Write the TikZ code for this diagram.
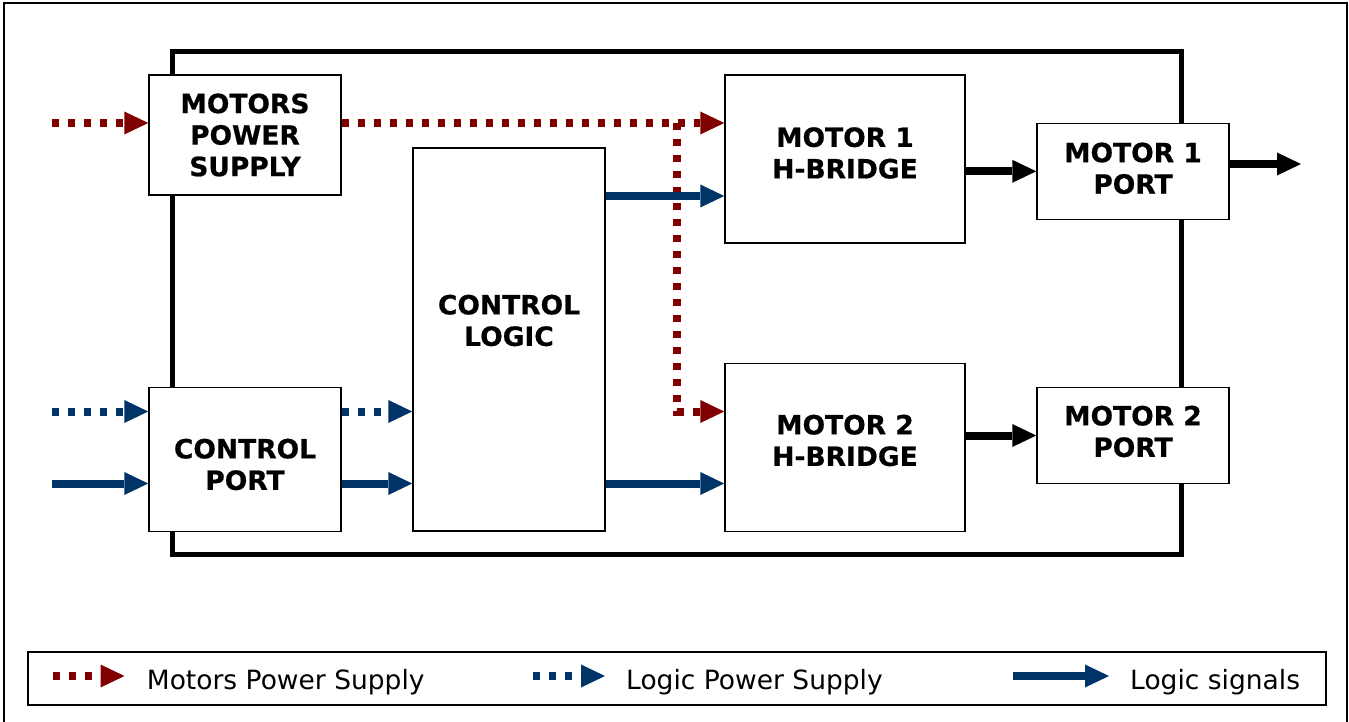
\documentclass[tikz,border=0pt]{standalone}
\usepackage{fontspec}
\setmainfont{DejaVu Sans}[BoldFeatures={FakeBold=0.6}]
\usetikzlibrary{arrows.meta}
\definecolor{pwrred}{RGB}{128,0,0}
\definecolor{logicblue}{RGB}{0,51,102}
\tikzset{
  blk/.style={draw=black,line width=1.5pt,fill=white,inner sep=0pt},
  blktext/.style={align=center,inner sep=0pt,font=\fontsize{26.5pt}{31.5pt}\selectfont\bfseries},
  tip/.style={-{Triangle[length=24pt,width=23pt,line width=0pt]}},
  mpwr/.style={tip,draw=pwrred,line width=8pt,dash pattern=on 7pt off 9pt},
  lpwr/.style={tip,draw=logicblue,line width=8pt,dash pattern=on 7pt off 9pt},
  lsig/.style={tip,draw=logicblue,line width=8pt},
  pout/.style={tip,draw=black,line width=8pt},
  keytext/.style={anchor=base west,inner sep=0pt,font=\fontsize{26.5pt}{31.5pt}\selectfont}
}
\begin{document}
\begin{tikzpicture}[x=1pt,y=-1pt]
\useasboundingbox (0,0) rectangle (1349,722);
% frames
\draw[line width=1.5pt] (4,3) rectangle (1347,726);
\draw[line width=5pt] (172.5,51.5) rectangle (1181,554.5);
% blocks
\node[blk,minimum width=192pt,minimum height=120pt,
  label={[blktext]center:MOTORS\\POWER\\SUPPLY}] (mps) at (245,135) {};
\node[blk,minimum width=192pt,minimum height=144pt,
  label={[blktext,yshift=-5pt]center:CONTROL\\PORT}] (cp) at (245,459.5) {};
\node[blk,minimum width=192pt,minimum height=383pt,
  label={[blktext,yshift=19pt]center:CONTROL\\LOGIC}] (logic) at (509,339.5) {};
\node[blk,minimum width=240pt,minimum height=168pt,
  label={[blktext,yshift=6pt]center:MOTOR 1\\H-BRIDGE}] (m1hb) at (845,159) {};
\node[blk,minimum width=240pt,minimum height=168pt,
  label={[blktext,yshift=7pt]center:MOTOR 2\\H-BRIDGE}] (m2hb) at (845,447.5) {};
\node[blk,minimum width=192pt,minimum height=96pt,
  label={[blktext,yshift=3pt]center:MOTOR 1\\PORT}] (m1p) at (1133,171.3) {};
\node[blk,minimum width=192pt,minimum height=96pt,
  label={[blktext,yshift=4pt]center:MOTOR 2\\PORT}] (m2p) at (1133,435.5) {};
% levels of the signals
\coordinate (inmp) at (52,123);
\coordinate (inlp) at (52,411.5);
\coordinate (inls) at (52,483.5);
\coordinate (sig1) at (605,196);
\coordinate (split) at (677,123);
\coordinate (out1) at (1301,164);
% motors power supply
\draw[mpwr] (inmp) -- (inmp -| mps.west);
\draw[mpwr] (inmp -| mps.east) -- (inmp -| m1hb.west);
\draw[mpwr] (split) |- (inlp -| m2hb.west);
% logic power and signals
\draw[lpwr] (inlp) -- (inlp -| cp.west);
\draw[lpwr] (inlp -| cp.east) -- (inlp -| logic.west);
\draw[lsig] (inls) -- (inls -| cp.west);
\draw[lsig] (inls -| cp.east) -- (inls -| logic.west);
\draw[lsig] (sig1 -| logic.east) -- (sig1 -| m1hb.west);
\draw[lsig] (inls -| logic.east) -- (inls -| m2hb.west);
% motor outputs
\draw[pout] (m1hb.east |- m1p.west) -- (m1p.west);
\draw[pout] (m2hb.east |- m2p.west) -- (m2p.west);
\draw[pout] (out1 -| m1p.east) -- (out1);
% legend
\node[draw=black,line width=1.5pt,minimum width=1298pt,minimum height=53pt,inner sep=0pt] (legend) at (677,678.5) {};
\node[keytext] (lg1) at (146.7,689) {Motors Power Supply};
\node[keytext] (lg2) at (626,689) {Logic Power Supply};
\node[keytext] (lg3) at (1130,689) {Logic signals};
\draw[mpwr] (52.5,676) -- (124.5,676);
\draw[lpwr] (533,676) -- (605,676);
\draw[lsig] (1013,676) -- (1109,676);
\end{tikzpicture}
\end{document}
